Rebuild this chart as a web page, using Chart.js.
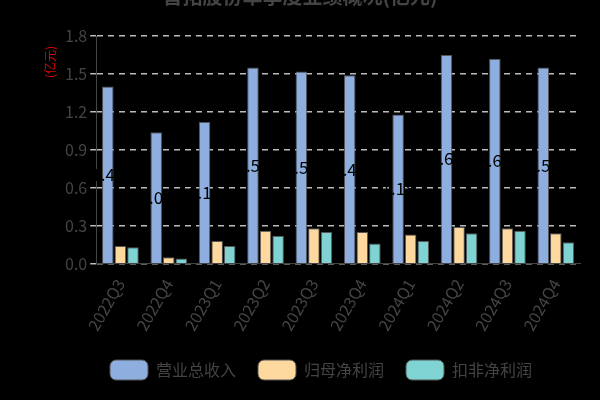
<!DOCTYPE html><html><head><meta charset="utf-8">
<script src="https://cdn.jsdelivr.net/npm/chart.js@4"></script>
<style>body{margin:0;background:#000}#w{width:600px;height:400px}</style></head><body><div id="w"><canvas id="c"></canvas></div>
<script>
const categories=['2022Q3','2022Q4','2023Q1','2023Q2','2023Q3','2023Q4','2024Q1','2024Q2','2024Q3','2024Q4'];
const revenue=[1.40,1.04,1.12,1.55,1.52,1.49,1.18,1.65,1.62,1.55];
const netProfit=[0.14,0.05,0.18,0.26,0.28,0.25,0.23,0.29,0.28,0.24];
const deductedProfit=[0.13,0.04,0.14,0.22,0.25,0.16,0.18,0.24,0.26,0.17];
const yTicks=[0,0.3,0.6,0.9,1.2,1.5,1.8];
const F='"Noto Sans CJK SC","Noto Sans",sans-serif';
const extra={id:'extra',afterDatasetsDraw(ch){const c=ch.ctx;c.save();
 const m=ch.getDatasetMeta(0);c.fillStyle='#000';c.font='17px '+F;c.textAlign='center';c.textBaseline='middle';
 m.data.forEach((b,i)=>{c.fillText(revenue[i].toFixed(2),b.x,(b.y+b.base)/2);});
 c.fillStyle='#444';c.font='bold 20px '+F;c.fillText('晋拓股份单季度业绩概况(亿元)',300,-4);
 c.fillStyle='#d00';c.font='12px '+F;c.translate(50,62);c.rotate(-Math.PI/2);c.fillText('(亿元)',0,0);
 c.restore();}};
new Chart(document.getElementById('c'),{type:'bar',data:{labels:categories,datasets:[
 {label:'营业总收入',data:revenue,backgroundColor:'#8eaee0',borderColor:'#555',borderWidth:1},
 {label:'归母净利润',data:netProfit,backgroundColor:'#fdd9a0',borderColor:'#555',borderWidth:1},
 {label:'扣非净利润',data:deductedProfit,backgroundColor:'#7fd3d3',borderColor:'#555',borderWidth:1}]},
 options:{animation:false,responsive:true,maintainAspectRatio:false,
 layout:{padding:{top:36,left:62,right:20,bottom:10}},
 categoryPercentage:0.78,barPercentage:0.92,
 plugins:{legend:{position:'bottom',labels:{color:'#444',font:{size:16,family:F},boxWidth:38,boxHeight:20,padding:22,useBorderRadius:true,borderRadius:6}},tooltip:{enabled:false}},
 scales:{x:{grid:{display:false},border:{color:'#444'},ticks:{color:'#444',font:{size:16,family:F},maxRotation:60,minRotation:60,padding:4}},
 y:{min:0,max:1.8,afterBuildTicks(a){a.ticks=yTicks.map(v=>({value:v}));},border:{color:'#444',dash:[6,5]},
 grid:{color:'#bbb',drawTicks:true,tickLength:6,lineWidth:1.5},ticks:{color:'#444',font:{size:16,family:F},callback:v=>v.toFixed(1)}}}},
 plugins:[extra]});
</script></body></html>
